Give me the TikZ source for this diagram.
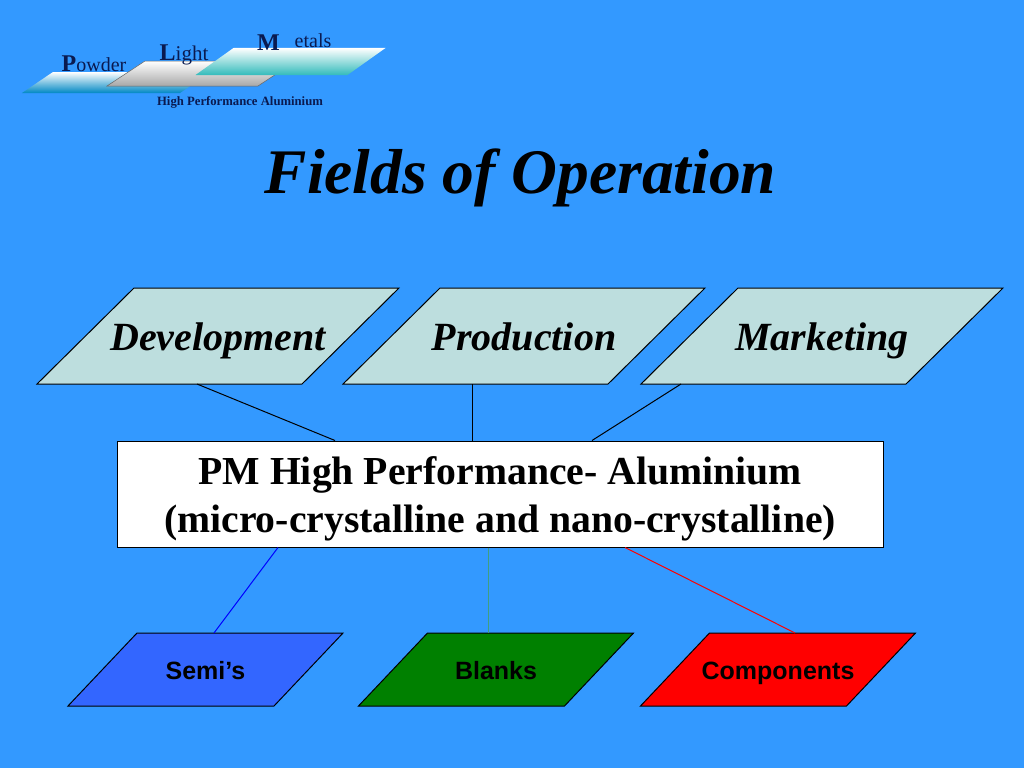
\documentclass[tikz,border=0pt]{standalone}
\usepackage{fontspec}
\usepackage{tikz}
\usetikzlibrary{shapes.geometric}
\setmainfont{Liberation Serif}
\newfontfamily\arialfont{Liberation Sans}
\newcommand{\sized}[1]{\fontsize{#1}{1.2\dimexpr #1pt\relax}\selectfont}
\definecolor{slidebg}{HTML}{3399FF}
\definecolor{fieldfill}{HTML}{BDDEDE}
\definecolor{logonavy}{HTML}{0A1A50}
\definecolor{semiblue}{HTML}{3366FF}
\definecolor{blanksline}{HTML}{3F9F80}
\definecolor{powderfoot}{HTML}{0088C4}
\definecolor{lightfoot}{HTML}{A8A8A8}
\definecolor{metalsfoot}{HTML}{33BBBB}
\tikzset{
  %% slant, body width, height
  para/.style n args={3}{trapezium,trapezium left angle={atan(#3/#1)},trapezium right angle={180-atan(#3/#1)},
    text width=#2pt,text height=#3pt,text depth=0pt,inner sep=0pt,outer sep=0pt},
  fieldbox/.style={para={97}{168}{96},draw=black,line width=1pt,fill=fieldfill},
  productbox/.style={para={69}{137}{73},draw=black,line width=1pt},
  fieldtext/.style={font=\sized{40}\bfseries\itshape,text height=.7em,text depth=.22em,inner sep=0pt,yshift=-12pt},
  producttext/.style={font=\arialfont\sized{25}\bfseries,text height=.7em,text depth=.22em,inner sep=0pt,yshift=-7.5pt},
  pmtext/.style={font=\sized{39.7}\bfseries,align=center,inner sep=0pt,yshift=-5pt},
  logotext/.style={anchor=base,inner sep=0pt,text=logonavy},
  link/.style={line width=1pt},
}
\begin{document}
\begin{tikzpicture}[x=1pt,y=-1pt]
    \useasboundingbox[fill=slidebg] (0,0) rectangle (1024,768);

    %% logo
    \node[para={31}{127}{21},top color=white,bottom color=powderfoot] (powder) at (116.5,82.5) {};
    \node[para={38}{113}{25},draw=black!60,line width=0.5pt,top color=white,bottom color=lightfoot] (light) at (201.5,73.5) {};
    \node[para={38}{114}{27},top color=white,bottom color=metalsfoot] (metals) at (290.5,61.5) {};
    \node[logotext] (powdertext) at (94,71.7) {\sized{24}\bfseries P\sized{20}\mdseries owder};
    \node[logotext] (lighttext) at (184,60) {\sized{24}\bfseries L\sized{21}\mdseries ight};
    \node[logotext,font=\sized{24}\bfseries] (metalsm) at (268.5,50) {M};
    \node[logotext,font=\sized{20}] (metalstext) at (313,48) {etals};
    \node[logotext,font=\sized{12.7}\bfseries] (logoname) at (240,105) {High Performance Aluminium};

    \node[anchor=base,inner sep=0pt,font=\sized{63.5}\bfseries\itshape] (title) at (520.5,193) {Fields of Operation};

    %% fields
    \node[fieldbox,label={[fieldtext]center:Development}] (dev) at (218,336) {};
    \node[fieldbox,label={[fieldtext]center:Production}] (prod) at (524,336) {};
    \node[fieldbox,label={[fieldtext]center:Marketing}] (mark) at (822,336) {};

    \node[draw=black,line width=1pt,fill=white,minimum width=766pt,minimum height=106pt,inner sep=0pt,
      label={[pmtext]center:{PM High Performance- Aluminium\\(micro-crystalline and nano-crystalline)}}] (pm) at (500,494) {};

    %% products
    \node[productbox,fill=semiblue,label={[producttext]center:Semi’s}] (semis) at (205.5,669.5) {};
    \node[productbox,fill=green!50!black,label={[producttext]center:Blanks}] (blanks) at (496,669.5) {};
    \node[productbox,fill=red,label={[producttext]center:Components}] (comps) at (778,669.5) {};

    %% fields to pm
    \draw[link] ([xshift=-21pt]dev.south) -- ([xshift=-165pt]pm.north);
    \draw[link] ([xshift=-52pt]prod.south) -- ([xshift=-28pt]pm.north);
    \draw[link] ([xshift=-141pt]mark.south) -- ([xshift=92pt]pm.north);
    %% pm to products
    \draw[link,blue] ([xshift=-222pt]pm.south) -- ([xshift=8.5pt]semis.north);
    \draw[link,blanksline] ([xshift=-12pt]pm.south) -- ([xshift=-8pt]blanks.north);
    \draw[link,red] ([xshift=125pt]pm.south) -- ([xshift=17pt]comps.north);
\end{tikzpicture}
\end{document}
